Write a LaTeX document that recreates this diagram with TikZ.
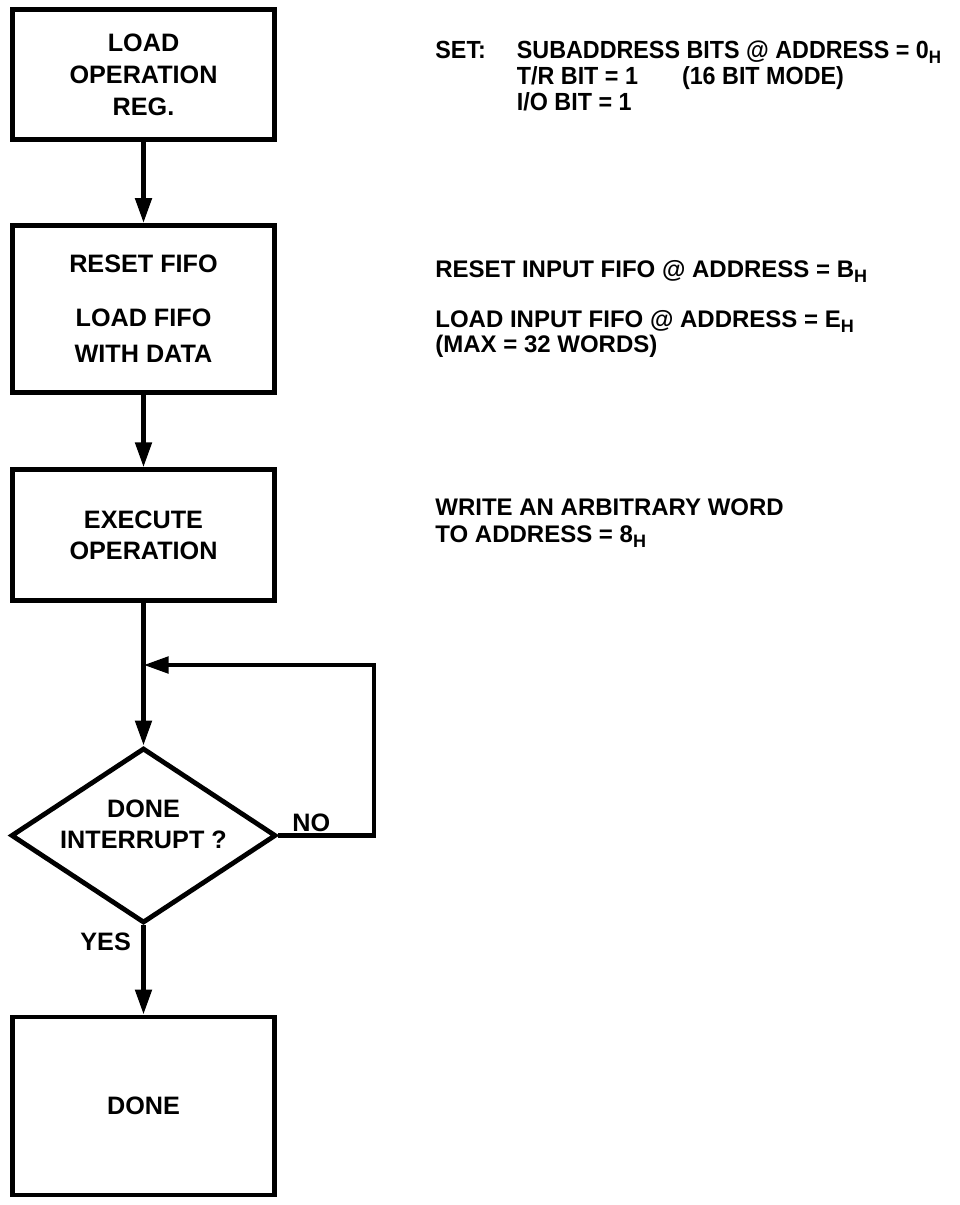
\documentclass[tikz,border=0pt]{standalone}
\usepackage{fontspec}
\setmainfont{Liberation Sans}
\newfontfamily\narrowfont[FakeStretch=0.94]{Liberation Sans}
\usetikzlibrary{shapes.geometric, arrows.meta}
\newcommand{\hexsub}{\raisebox{-0.45ex}{\fontsize{9}{9}\selectfont H}}
\tikzset{->,>={Triangle[length=12.5pt,width=8pt]},
every node/.style={font=\bfseries\fontsize{12.6}{16}\selectfont},
stepbox/.style={draw, rectangle, align=center, minimum width=131pt, inner sep=0pt},
testbox/.style={draw, diamond, minimum width=132.5pt, minimum height=87.5pt, inner sep=0pt},
note/.style={anchor=base west, align=left, inner sep=0pt, font=\bfseries\fontsize{12}{12.5}\selectfont}}

\begin{document}
\begin{tikzpicture}[x=0.5pt, y=-0.5pt, line width=2.4pt]
\useasboundingbox (0,0) rectangle (959,1205);
\node[stepbox, minimum height=65pt] (opreg) at (143.5,74.5) {LOAD\\OPERATION\\REG.};
\node[stepbox, minimum height=83.5pt, font=\bfseries\fontsize{12.6}{18}\selectfont] (fifo) at (143.5,309) {RESET FIFO\\[9pt]LOAD FIFO\\WITH DATA};
\node[stepbox, minimum height=65.25pt, font=\bfseries\fontsize{12.6}{15.5}\selectfont] (exec) at (143.5,535) {EXECUTE\\OPERATION};
\node[testbox] (irq) at (143.5,835.5) {};
\node[align=center, inner sep=0pt, font=\bfseries\fontsize{12.6}{15.5}\selectfont] (irqtext) at ([yshift=5.5pt]irq.center) {DONE\\INTERRUPT ?};
\node[stepbox, minimum height=89pt] (done) at (143.5,1106) {DONE};
\coordinate (loopin) at (143.5,665);
\coordinate (loopcorner) at (374,835.5);
\draw (opreg) -- (fifo);
\draw (fifo) -- (exec);
\draw (exec) -- (irq);
\draw (irq) -- (done);
\draw (irq.east) -- (loopcorner) |- (loopin);
\node[anchor=base west, inner sep=0pt] (nolbl) at (290,831) {NO};
\node[anchor=base west, inner sep=0pt] (yeslbl) at (78,950) {YES};
% notes beside the steps
\node[note, font=\narrowfont\bfseries\fontsize{12.4}{13}\selectfont] (setnote) at (433,58) {\begin{tabular}[t]{@{}l@{\hspace{15.5pt}}l@{}}
SET: & SUBADDRESS BITS @ ADDRESS = 0\hexsub\\
 & T/R BIT = 1\hspace{22pt}(16 BIT MODE)\\
 & I/O BIT = 1
\end{tabular}};
\node[note] (resetnote) at (433,277) {RESET INPUT FIFO @ ADDRESS = B\hexsub};
\node[note] (loadnote) at (433,352) {LOAD INPUT FIFO @ ADDRESS = E\hexsub\\(MAX = 32 WORDS)};
\node[note, font=\bfseries\fontsize{12}{13.5}\selectfont] (execnote) at (433,542) {WRITE AN ARBITRARY WORD\\TO ADDRESS = 8\hexsub};
\end{tikzpicture}
\end{document}
